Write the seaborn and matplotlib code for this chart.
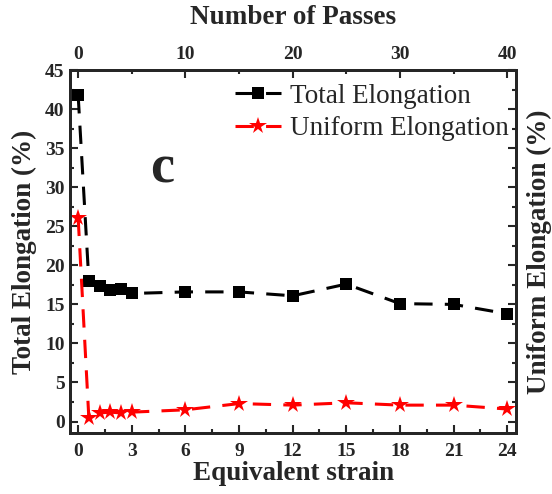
import numpy as np
import pandas as pd
import matplotlib
matplotlib.use("Agg")
import matplotlib.pyplot as plt
import seaborn as sns

# data
strain = [0, 0.6, 1.2, 1.8, 2.4, 3, 6, 9, 12, 15, 18, 21, 24]
total_elong = [41.8, 18.0, 17.4, 16.8, 17.0, 16.4, 16.6, 16.6, 16.1, 17.6, 15.1, 15.0, 13.8]
uniform_elong = [26.1, 0.4, 1.1, 1.2, 1.1, 1.2, 1.5, 2.3, 2.1, 2.4, 2.1, 2.1, 1.6]
bottom_ticks = [0, 3, 6, 9, 12, 15, 18, 21, 24]
left_ticks = [0, 5, 10, 15, 20, 25, 30, 35, 40, 45]
top_ticks = [0, 10, 20, 30, 40]
strain_per_pass = 0.6

df = pd.DataFrame({"strain": strain, "total": total_elong, "uniform": uniform_elong})

sns.set_style("ticks")
plt.rcParams['font.family'] = ['Liberation Serif', 'DejaVu Serif']

fig = plt.figure(figsize=(5.52, 4.94), dpi=100)
ax = fig.add_axes([0.127, 0.123, 0.808, 0.735])

sns.lineplot(data=df, x="strain", y="total", ax=ax, color="black", marker="s",
             markersize=9, linewidth=2.2, dashes=False, label="Total Elongation")
sns.lineplot(data=df, x="strain", y="uniform", ax=ax, color="red", marker="*",
             markersize=13, linewidth=2.2, dashes=False, label="Uniform Elongation")
for ln in ax.lines:
    ln.set_linestyle((0, (6, 4)))
    ln.set_markeredgewidth(0)

ax.set_xlim(-0.45, 24.5)
ax.set_ylim(-1.5, 45)
ax.set_xticks(bottom_ticks)
ax.set_yticks(left_ticks)
ax.set_xticks(np.arange(1.5, 24, 3), minor=True)
ax.set_yticks(np.arange(2.5, 45, 5), minor=True)
ax.tick_params(which="both", direction="in", width=1.5)
ax.tick_params(which="major", length=6, labelsize=14)
ax.tick_params(axis="x", which="major", pad=7)
ax.tick_params(axis="y", which="major", pad=4)
ax.tick_params(which="minor", length=3)
for lab in ax.get_xticklabels() + ax.get_yticklabels():
    lab.set_fontweight("bold")
for sp in ax.spines.values():
    sp.set_linewidth(2)

ax.set_xlabel("Equivalent strain", fontsize=19.5, fontweight="bold", labelpad=1)
ax.set_ylabel("Total Elongation (%)", fontsize=19.5, fontweight="bold", labelpad=6)

ax.text(4.0, 30.6, "c", fontsize=39, fontweight="bold", va="baseline")

leg = ax.legend(loc="upper right", bbox_to_anchor=(1.025, 1.015), frameon=False,
                fontsize=19.5, handlelength=1.7, handletextpad=0.3, labelspacing=0.28,
                borderaxespad=0.3)

# top axis: number of passes
axt = ax.twiny()
axt.set_xlim(-0.45 / strain_per_pass, 24.5 / strain_per_pass)
axt.set_xticks(top_ticks)
axt.set_xticks(np.arange(5, 40, 10), minor=True)
axt.tick_params(which="both", direction="in", width=1.5)
axt.tick_params(which="major", length=6, labelsize=14, pad=5)
axt.tick_params(which="minor", length=3)
for lab in axt.get_xticklabels():
    lab.set_fontweight("bold")
axt.set_xlabel("Number of Passes", fontsize=19.5, fontweight="bold", labelpad=16)

# right axis: uniform elongation
axr = ax.twinx()
axr.set_ylim(-1.5, 45)
axr.set_yticks(left_ticks)
axr.set_yticks(np.arange(2.5, 45, 5), minor=True)
axr.tick_params(which="both", direction="in", width=1.5, labelright=False)
axr.tick_params(which="major", length=6)
axr.tick_params(which="minor", length=3)
axr.set_ylabel("Uniform Elongation (%)", fontsize=19.5, fontweight="bold", labelpad=8)
for a in (axt, axr):
    for sp in a.spines.values():
        sp.set_linewidth(2)

fig.savefig("out.png", dpi=100)
